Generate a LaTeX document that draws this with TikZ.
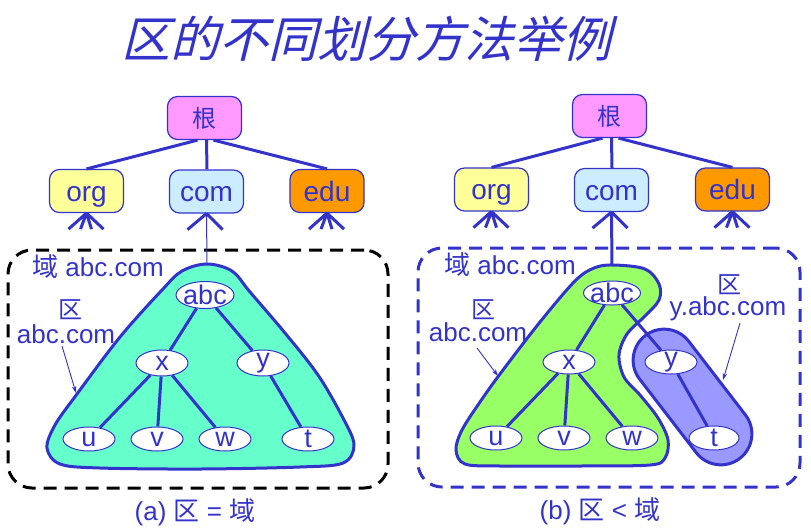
\documentclass[tikz,border=0pt]{standalone}
\usepackage{fontspec}
\setmainfont{Liberation Sans}
\newfontfamily\cjk{Noto Sans CJK SC}
\newfontfamily\cjktitle[FakeSlant=0.25]{Noto Sans CJK SC}
\usetikzlibrary{shapes.geometric,shapes.misc,arrows.meta}
\definecolor{myblue}{HTML}{3333CC}
\definecolor{cpink}{HTML}{FF99FF}
\definecolor{cyellow}{HTML}{FFFF99}
\definecolor{clblue}{HTML}{CCECFF}
\definecolor{corange}{HTML}{FF9900}
\definecolor{cteal}{HTML}{66FFCC}
\definecolor{cgreen}{HTML}{99FF66}
\definecolor{cviolet}{HTML}{9999FF}
\begin{document}
\begin{tikzpicture}[x=1pt,y=-1pt,
  tbox/.style={draw=myblue, line width=1.2pt, rounded corners=10pt, minimum width=74pt, minimum height=43pt, inner sep=0pt, font=\fontsize{28}{30}\selectfont, text=myblue, text height=22pt, text depth=2pt},
  tline/.style={draw=myblue, line width=3pt},
  ell/.style={ellipse, draw=myblue, line width=1pt, fill=white, minimum width=52pt, minimum height=24pt, inner sep=0pt},
  lbl/.style={font=\fontsize{26}{28}\selectfont, text=myblue, inner sep=1pt},
  elbl/.style={font=\fontsize{27}{28}\selectfont, text=myblue, inner sep=0pt},
  blob/.style={draw=myblue, line width=3pt},
  thinarrow/.style={draw=myblue, line width=0.9pt, -{Stealth[length=7pt,width=4.5pt]}},
  dbox/.style={draw, line width=3pt, dash pattern=on 13pt off 8pt, rounded corners=24pt, inner sep=0pt}
]
\useasboundingbox (0,0) rectangle (811,531);

% title
\node[font=\cjktitle\fontsize{49}{54}\selectfont, text=myblue] (title) at (366,39) {区的不同划分方法举例};

% ================= left panel =================
\node[dbox, draw=black, minimum width=380pt, minimum height=238pt] (Ldom) at (198,369) {};
\filldraw[blob, fill=cteal] plot[smooth cycle, tension=0.55] coordinates {
 (207,264) (232,271) (250,292) (285,333) (318,375) (343,418) (354,445) (343,463)
 (300,467) (200,469) (100,468) (60,464) (47,448) (55,425) (77,394) (120,337) (162,290) (182,271)};
\coordinate (Ltop) at (207,264);

\node[tbox, fill=cpink, font=\cjk\fontsize{24}{28}\selectfont, text height=, text depth=] (Lroot) at (204.5,118) {根};
\node[tbox, fill=cyellow] (Lorg) at (86.5,191) {org};
\node[tbox, fill=clblue] (Lcom) at (206.5,191.5) {com};
\node[tbox, fill=corange] (Ledu) at (327,191) {edu};
\draw[tline] ([xshift=-7pt]Lroot.south) -- (Lorg.north);
\draw[tline] ([xshift=2pt]Lroot.south) -- ([xshift=0.5pt]Lcom.north);
\draw[tline] ([xshift=9pt]Lroot.south) -- (Ledu.north);
\draw[tline] (Lorg.south) -- ++(-18,16) (Lorg.south) -- ++(-6,16) (Lorg.south) -- ++(5,16) (Lorg.south) -- ++(17,16);
\draw[tline] (Lcom.south) -- ++(-19,16) (Lcom.south) -- ++(16,16);
\draw[tline] (Ledu.south) -- ++(-18,16) (Ledu.south) -- ++(-6,16) (Ledu.south) -- ++(5,16) (Ledu.south) -- ++(17,16);
\draw[draw=myblue, line width=1pt] (Lcom.south) -- (Ltop);

\node[ell, minimum width=58pt, minimum height=27pt, label={[elbl]center:abc}] (La) at (205,295) {};
\node[ell, minimum height=26pt, label={[elbl]center:x}] (Lx) at (162,363) {};
\node[ell, minimum height=26pt, label={[elbl]center:y}] (Ly) at (263,363) {};
\node[ell, label={[elbl]center:u}] (Lu) at (89,439) {};
\node[ell, label={[elbl]center:v}] (Lv) at (157,439) {};
\node[ell, label={[elbl]center:w}] (Lw) at (225,439) {};
\node[ell, label={[elbl]center:t}] (Lt) at (308,439) {};
\draw[tline] (La) -- (Lx) (La) -- (Ly) (Lx) -- (Lu) (Lx) -- (Lv) (Lx) -- (Lw) (Ly) -- (Lt);

\node[lbl] (Ldomlbl) at (98,267) {{\cjk 域} abc.com};
\node[lbl, font=\cjk\fontsize{24}{28}\selectfont] (Lzone1) at (70,310) {区};
\node[lbl] (Lzone2) at (66,334) {abc.com};
\coordinate (LarrS) at (62,346);
\coordinate (LarrE) at (76,393);
\draw[thinarrow] (LarrS) -- (LarrE);

\node[lbl, inner sep=0pt] (Lcap) at (195,512) {(a) {\cjk 区} = {\cjk 域}};

% ================= right panel =================
\node[dbox, draw=myblue, minimum width=382pt, minimum height=239pt] (Rdom) at (609,367.5) {};
\filldraw[blob, fill=cgreen] plot[smooth cycle, tension=0.55] coordinates {
 (613,265) (645,269) (659,284) (659,300) (645,316) (627,334) (619,355) (624,377) (640,395)
 (658,418) (668,440) (665,458) (650,465) (580,466) (500,466) (465,464) (456,450) (462,430)
 (480,402) (500,374) (540,322) (575,281) (594,268)};
\coordinate (Rtop) at (612,266);
\node[rounded rectangle, draw=myblue, line width=3pt, fill=cviolet, minimum width=155pt, minimum height=62pt, inner sep=0pt, rotate=-52.4] (Rblob) at (692.5,397) {};

\node[tbox, fill=cpink, font=\cjk\fontsize{24}{28}\selectfont, text height=, text depth=] (Rroot) at (609.5,116) {根};
\node[tbox, fill=cyellow] (Rorg) at (491.5,189.5) {org};
\node[tbox, fill=clblue] (Rcom) at (611.5,190) {com};
\node[tbox, fill=corange] (Redu) at (732.5,189.5) {edu};
\draw[tline] ([xshift=-7pt]Rroot.south) -- (Rorg.north);
\draw[tline] ([xshift=2pt]Rroot.south) -- ([xshift=0.5pt]Rcom.north);
\draw[tline] ([xshift=9pt]Rroot.south) -- (Redu.north);
\draw[tline] (Rorg.south) -- ++(-18,16) (Rorg.south) -- ++(-6,16) (Rorg.south) -- ++(5,16) (Rorg.south) -- ++(17,16);
\draw[tline] (Rcom.south) -- ++(-19,16) (Rcom.south) -- ++(16,16);
\draw[tline] (Redu.south) -- ++(-18,16) (Redu.south) -- ++(-6,16) (Redu.south) -- ++(5,16) (Redu.south) -- ++(17,16);
\draw[tline] (Rcom.south) -- (Rtop);

\node[ell, minimum width=57pt, label={[elbl]center:abc}] (Ra) at (612,293) {};
\node[ell, label={[elbl]center:x}] (Rx) at (569,362) {};
\node[ell, label={[elbl]center:y}] (Ry) at (671,362) {};
\node[ell, label={[elbl]center:u}] (Ru) at (496,438) {};
\node[ell, label={[elbl]center:v}] (Rv) at (564,438) {};
\node[ell, label={[elbl]center:w}] (Rw) at (632,438) {};
\node[ell, minimum width=50pt, label={[elbl]center:t}] (Rt) at (714,438) {};
\draw[tline] (Ra) -- (Rx) (Ra) -- (Ry) (Rx) -- (Ru) (Rx) -- (Rv) (Rx) -- (Rw) (Ry) -- (Rt);

\node[lbl] (Rdomlbl) at (510,265) {{\cjk 域} abc.com};
\node[lbl, font=\cjk\fontsize{24}{28}\selectfont] (Rzone1) at (483,310) {区};
\node[lbl] (Rzone2) at (478,332) {abc.com};
\coordinate (RarrS) at (477,348);
\coordinate (RarrE) at (498,376);
\draw[thinarrow] (RarrS) -- (RarrE);
\node[lbl, font=\cjk\fontsize{24}{28}\selectfont] (Rzone3) at (729,285) {区};
\node[lbl] (Rzone4) at (728,309) {y.abc.com};
\coordinate (Rarr2S) at (740,323);
\coordinate (Rarr2E) at (723,380);
\draw[thinarrow] (Rarr2S) -- (Rarr2E);

\node[lbl, inner sep=0pt] (Rcap) at (600,511) {(b) {\cjk 区} < {\cjk 域}};
\end{tikzpicture}
\end{document}
